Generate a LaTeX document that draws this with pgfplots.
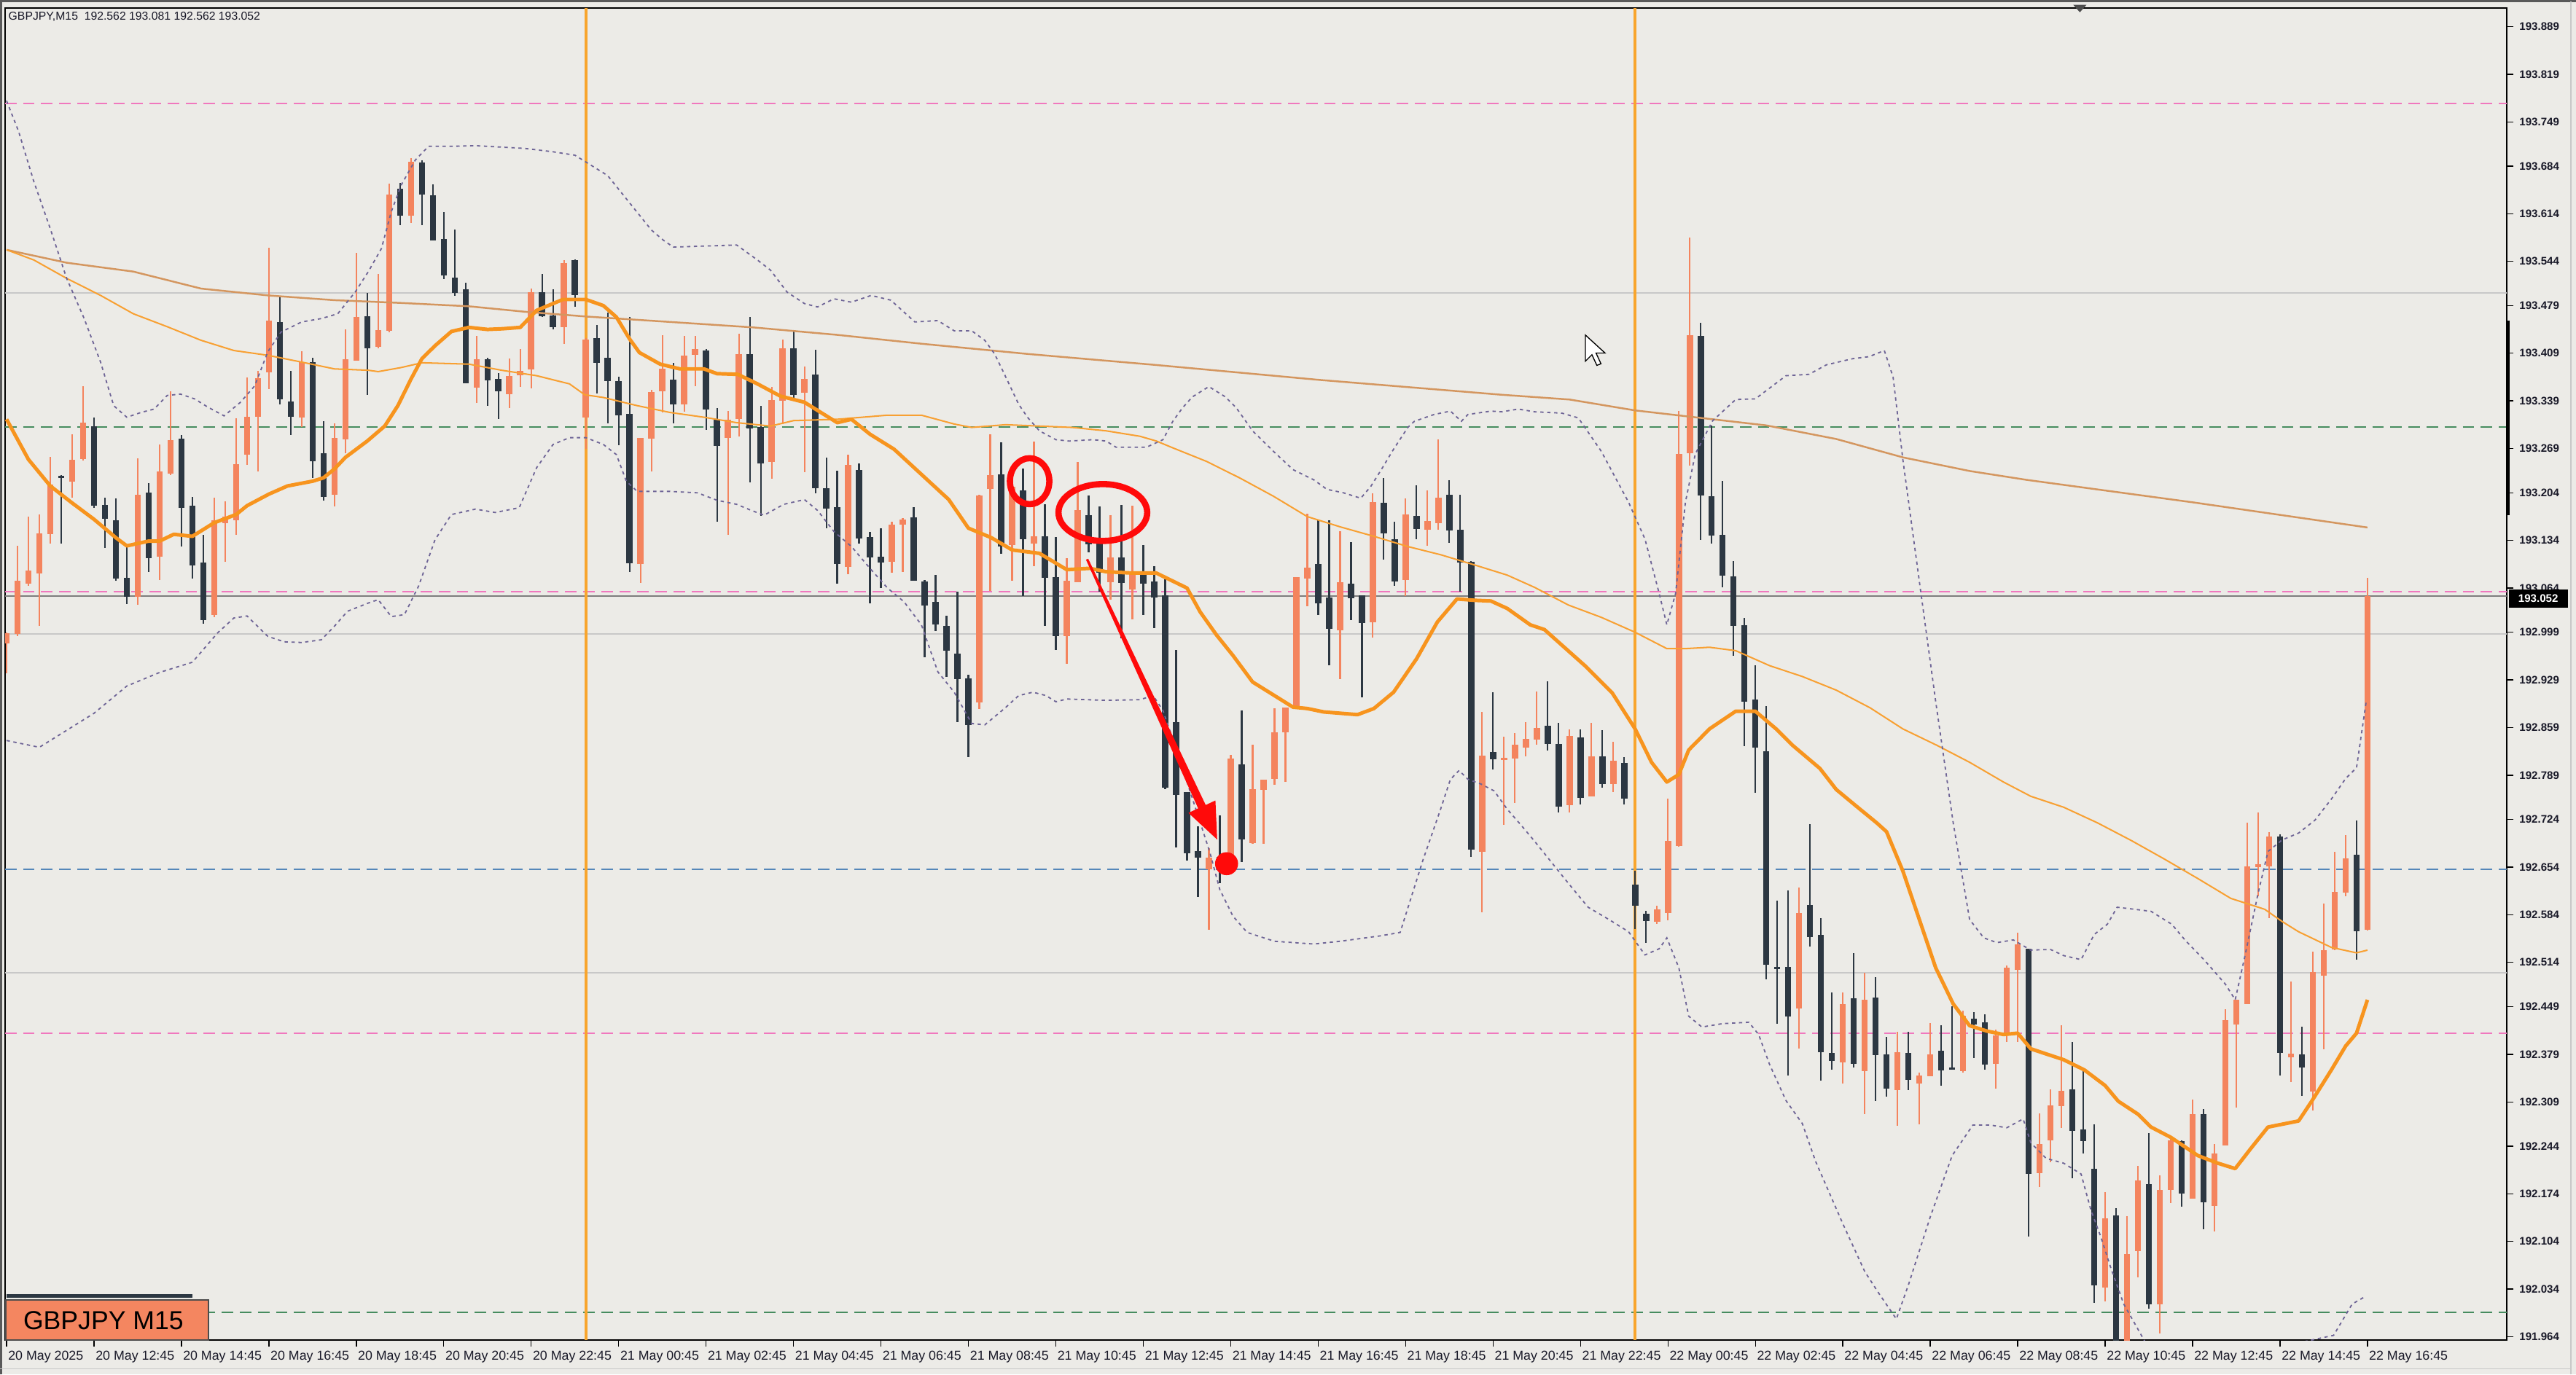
\documentclass[border=0pt]{standalone}
\usepackage{fontspec}
\setmainfont{Liberation Sans}
\usepackage{pgfplots}
\usepackage{pgfplotstable}
\pgfplotsset{compat=1.18}

\definecolor{bgc}{RGB}{236,235,231}
\definecolor{bullc}{RGB}{244,132,94}
\definecolor{bearc}{RGB}{44,55,66}
\definecolor{maf}{RGB}{247,148,30}
\definecolor{mam}{RGB}{248,160,50}
\definecolor{mas}{RGB}{212,150,95}
\definecolor{bbc}{RGB}{110,100,150}
\definecolor{pinkc}{RGB}{240,120,190}
\definecolor{greenc}{RGB}{70,140,95}
\definecolor{bluec}{RGB}{85,135,185}
\definecolor{lgray}{RGB}{200,200,200}
\definecolor{dgray}{RGB}{125,125,125}
\definecolor{vlinec}{RGB}{248,165,45}
\definecolor{annred}{RGB}{255,10,10}
\definecolor{boxc}{RGB}{244,134,96}
\definecolor{txtc}{RGB}{25,25,40}

% bar index k (0 = 20 May 10:45, one bar = 15 min), open high low close
\pgfplotstableread{
k o h l c
0 192.983 193.000 192.940 192.998
1 192.998 193.128 192.995 193.076
2 193.072 193.170 193.069 193.091
3 193.086 193.172 193.008 193.145
4 193.143 193.258 193.130 193.216
6 193.221 193.290 193.197 193.253
7 193.253 193.361 193.251 193.307
12 193.052 193.256 193.040 193.202
14 193.111 193.275 193.076 193.236
15 193.234 193.354 193.231 193.283
19 193.025 193.197 193.022 193.165
20 193.160 193.192 193.103 193.170
21 193.165 193.315 193.143 193.248
22 193.261 193.374 193.246 193.317
23 193.317 193.384 193.236 193.374
24 193.381 193.565 193.357 193.457
27 193.315 193.413 193.302 193.396
30 193.202 193.307 193.185 193.285
31 193.283 193.445 193.263 193.401
32 193.398 193.556 193.398 193.462
34 193.420 193.526 193.416 193.445
35 193.443 193.659 193.440 193.644
37 193.612 193.696 193.600 193.691
43 193.359 193.435 193.337 193.401
46 193.349 193.403 193.330 193.376
47 193.379 193.415 193.359 193.385
48 193.386 193.506 193.359 193.499
51 193.448 193.546 193.423 193.542
53 193.315 193.433 193.270 193.430
58 193.099 193.285 193.071 193.285
59 193.284 193.356 193.236 193.353
60 193.354 193.437 193.324 193.387
62 193.335 193.435 193.324 193.407
63 193.408 193.435 193.361 193.417
66 193.285 193.324 193.142 193.312
67 193.312 193.438 193.287 193.408
70 193.251 193.361 193.226 193.342
71 193.340 193.429 193.305 193.417
73 193.351 193.391 193.236 193.371
77 193.096 193.260 193.084 193.245
81 193.103 193.162 193.087 193.158
82 193.157 193.167 193.088 193.165
89 192.897 193.202 192.887 193.202
90 193.211 193.290 193.060 193.232
92 193.128 193.217 193.075 193.214
94 193.131 193.281 193.098 193.142
97 192.995 193.108 192.953 193.076
98 193.073 193.249 193.073 193.179
101 193.073 193.173 193.048 193.110
103 193.063 193.186 193.019 193.088
110 192.651 192.683 192.563 192.668
112 192.656 192.820 192.656 192.814
114 192.690 192.835 192.690 192.770
115 192.768 192.783 192.690 192.783
116 192.784 192.889 192.776 192.852
117 192.852 192.888 192.780 192.888
118 192.889 193.081 192.889 193.081
119 193.079 193.173 193.037 193.096
122 193.002 193.148 192.931 193.073
125 193.013 193.204 192.992 193.190
128 193.077 193.197 193.054 193.173
130 193.151 193.209 193.127 193.164
131 193.159 193.282 193.150 193.197
135 192.678 192.883 192.589 192.819
137 192.812 192.847 192.717 192.815
138 192.814 192.852 192.749 192.834
139 192.830 192.868 192.818 192.842
140 192.842 192.913 192.834 192.859
143 192.746 192.857 192.735 192.848
145 192.759 192.866 192.759 192.818
147 192.777 192.839 192.765 192.812
151 192.575 192.599 192.572 192.593
152 192.588 192.756 192.577 192.694
153 192.685 193.325 192.685 193.262
154 193.262 193.580 193.245 193.436
164 192.446 192.626 192.389 192.586
168 192.368 192.470 192.337 192.453
170 192.355 192.499 192.291 192.460
173 192.326 192.413 192.275 192.382
175 192.337 192.353 192.277 192.348
176 192.348 192.426 192.348 192.380
179 192.355 192.444 192.353 192.437
182 192.366 192.417 192.330 192.408
183 192.410 192.510 192.398 192.506
184 192.504 192.559 192.398 192.541
186 192.205 192.293 192.184 192.248
187 192.253 192.329 192.222 192.304
188 192.304 192.423 192.272 192.327
192 192.037 192.176 192.016 192.138
194 191.905 192.142 191.890 192.087
195 192.090 192.215 192.052 192.194
197 192.012 192.202 191.970 192.180
198 192.180 192.258 192.161 192.253
200 192.167 192.312 192.167 192.291
202 192.157 192.248 192.119 192.234
203 192.245 192.446 192.245 192.429
204 192.423 192.459 192.301 192.459
205 192.453 192.719 192.453 192.656
206 192.654 192.735 192.612 192.658
207 192.656 192.706 192.579 192.699
209 192.375 192.486 192.339 192.381
211 192.324 192.530 192.297 192.500
212 192.495 192.601 192.387 192.532
213 192.533 192.677 192.533 192.618
214 192.618 192.702 192.612 192.668
216 192.562 193.081 192.562 193.052
}\bull

\pgfplotstableread{
k o h l c
5 193.229 193.231 193.130 193.226
8 193.302 193.315 193.182 193.185
9 193.187 193.197 193.123 193.167
10 193.165 193.197 193.076 193.079
11 193.079 193.126 193.042 193.052
13 193.205 193.219 193.089 193.108
16 193.284 193.290 193.126 193.182
17 193.185 193.199 193.079 193.098
18 193.101 193.143 193.012 193.017
25 193.455 193.492 193.334 193.342
26 193.339 193.384 193.290 193.317
28 193.396 193.403 193.226 193.251
29 193.263 193.310 193.194 193.199
33 193.465 193.499 193.349 193.418
36 193.651 193.659 193.597 193.612
38 193.691 193.693 193.597 193.644
39 193.642 193.657 193.575 193.575
40 193.578 193.617 193.519 193.524
41 193.521 193.592 193.494 193.499
42 193.505 193.513 193.366 193.366
44 193.402 193.403 193.332 193.371
45 193.372 193.380 193.312 193.354
49 193.499 193.526 193.463 193.464
50 193.464 193.504 193.445 193.447
52 193.546 193.547 193.477 193.494
54 193.432 193.452 193.351 193.396
55 193.403 193.469 193.306 193.369
56 193.369 193.376 193.275 193.319
57 193.321 193.463 193.088 193.101
61 193.371 193.396 193.307 193.334
64 193.415 193.416 193.297 193.328
65 193.312 193.329 193.162 193.274
68 193.409 193.463 193.220 193.300
69 193.302 193.333 193.172 193.248
72 193.418 193.443 193.342 193.349
74 193.378 193.415 193.204 193.211
75 193.212 193.256 193.152 193.182
76 193.184 193.237 193.071 193.101
78 193.238 193.248 193.130 193.138
79 193.140 193.146 193.042 193.111
80 193.111 193.152 193.064 193.102
83 193.168 193.183 193.075 193.075
84 193.075 193.076 192.963 193.039
85 193.044 193.083 193.001 193.010
86 193.010 193.024 192.934 192.973
87 192.968 193.059 192.867 192.931
88 192.932 192.937 192.816 192.863
91 193.231 193.279 193.115 193.125
93 193.209 193.240 193.053 193.137
95 193.142 193.189 193.010 193.081
96 193.082 193.140 192.973 192.995
99 193.173 193.200 193.117 193.130
100 193.130 193.184 193.059 193.086
102 193.108 193.186 192.990 193.071
104 193.089 193.128 193.025 193.071
105 193.074 193.098 193.007 193.051
106 193.054 193.078 192.770 192.771
107 192.867 192.974 192.683 192.760
108 192.764 192.764 192.664 192.674
109 192.678 192.715 192.611 192.668
111 192.670 192.730 192.631 192.660
113 192.807 192.886 192.663 192.697
120 193.099 193.164 193.024 193.041
121 193.051 193.164 192.951 193.005
123 193.072 193.132 193.018 193.051
124 193.054 193.054 192.904 193.014
126 193.190 193.227 193.107 193.145
127 193.136 193.162 193.068 193.074
129 193.169 193.215 193.136 193.150
132 193.202 193.223 193.131 193.150
133 193.150 193.202 193.060 193.102
134 193.103 193.105 192.670 192.680
136 192.824 192.912 192.798 192.813
141 192.863 192.928 192.826 192.836
142 192.836 192.866 192.735 192.744
144 192.845 192.857 192.747 192.756
146 192.818 192.857 192.772 192.777
148 192.808 192.817 192.747 192.756
149 192.630 192.650 192.564 192.599
150 192.586 192.590 192.543 192.575
155 193.434 193.454 193.135 193.200
156 193.200 193.303 193.129 193.143
157 193.143 193.221 193.065 193.083
158 193.083 193.105 192.966 193.010
159 193.010 193.021 192.833 192.898
160 192.901 192.952 192.765 192.830
161 192.824 192.892 192.490 192.510
162 192.509 192.605 192.424 192.506
163 192.508 192.620 192.348 192.435
165 192.599 192.717 192.537 192.552
166 192.555 192.581 192.342 192.383
167 192.382 192.470 192.357 192.371
169 192.462 192.528 192.360 192.366
171 192.462 192.493 192.311 192.377
172 192.380 192.406 192.318 192.330
174 192.382 192.413 192.328 192.342
177 192.386 192.422 192.333 192.357
178 192.360 192.451 192.357 192.357
180 192.433 192.442 192.375 192.424
181 192.426 192.439 192.357 192.364
185 192.536 192.536 192.113 192.205
189 192.329 192.398 192.197 192.268
190 192.271 192.356 192.234 192.253
191 192.211 192.276 192.014 192.039
193 192.142 192.153 191.900 191.910
196 192.189 192.264 192.006 192.012
199 192.253 192.253 192.156 192.176
201 192.291 192.299 192.123 192.161
208 192.699 192.702 192.348 192.381
210 192.379 192.421 192.319 192.360
215 192.673 192.723 192.518 192.561
}\bear

\begin{document}
\begin{tikzpicture}
\useasboundingbox (0pt,0pt) rectangle (1568pt,837pt);
\fill[bgc] (0pt,0pt) rectangle (1568pt,837pt);
\draw[gray!70!black, line width=1.2pt] (0.6pt,0pt) -- (0.6pt,837pt);
\draw[gray!70!black, line width=1.2pt] (0pt,836.4pt) -- (1568pt,836.4pt);
\draw[lgray, line width=0.8pt] (1565pt,0pt) -- (1565pt,836pt);
\draw[lgray, line width=0.8pt] (0pt,3.5pt) -- (1565pt,3.5pt);

\begin{axis}[
  at={(3pt,21pt)}, anchor=south west,
  scale only axis, width=1523pt, height=811pt,
  xmin=-0.15, xmax=228.77, ymin=191.959, ymax=193.916,
  axis line style={draw=black, line width=0.8pt},
  tick style={draw=black, line width=0.6pt},
  tick align=outside, major tick length=4pt,
  xtick pos=bottom, ytick pos=right, yticklabel pos=right,
  scaled y ticks=false, scaled x ticks=false,
  xtick={0,8,...,216},
  xticklabels={20 May 2025, 20 May 12:45, 20 May 14:45, 20 May 16:45, 20 May 18:45, 20 May 20:45, 20 May 22:45, 21 May 00:45, 21 May 02:45, 21 May 04:45, 21 May 06:45, 21 May 08:45, 21 May 10:45, 21 May 12:45, 21 May 14:45, 21 May 16:45, 21 May 18:45, 21 May 20:45, 21 May 22:45, 22 May 00:45, 22 May 02:45, 22 May 04:45, 22 May 06:45, 22 May 08:45, 22 May 10:45, 22 May 12:45, 22 May 14:45, 22 May 16:45},
  xticklabel style={anchor=north west, xshift=-2.5pt, yshift=1pt, text=txtc, font=\fontsize{7.9}{8}\selectfont},
  ytick={193.889,193.819,193.749,193.684,193.614,193.544,193.479,193.409,193.339,193.269,193.204,193.134,193.064,192.999,192.929,192.859,192.789,192.724,192.654,192.584,192.514,192.449,192.379,192.309,192.244,192.174,192.104,192.034,191.964},
  yticklabels={193.889,193.819,193.749,193.684,193.614,193.544,193.479,193.409,193.339,193.269,193.204,193.134,193.064,192.999,192.929,192.859,192.789,192.724,192.654,192.584,192.514,192.449,192.379,192.309,192.244,192.174,192.104,192.034,191.964},
  yticklabel style={anchor=west, text=txtc, font=\bfseries\fontsize{6.7}{7}\selectfont},
]
% horizontal levels
\addplot[pinkc, line width=0.8pt, dash pattern=on 7pt off 4pt] coordinates {(-0.15,193.776) (228.77,193.776)};
\addplot[lgray, line width=0.8pt] coordinates {(-0.15,193.498) (228.77,193.498)};
\addplot[greenc, line width=0.8pt, dash pattern=on 7pt off 4pt] coordinates {(-0.15,193.301) (228.77,193.301)};
\addplot[pinkc, line width=0.8pt, dash pattern=on 7pt off 4pt] coordinates {(-0.15,193.059) (228.77,193.059)};
\addplot[dgray, line width=0.8pt] coordinates {(-0.15,193.052) (228.77,193.052)};
\addplot[lgray, line width=0.8pt] coordinates {(-0.15,192.997) (228.77,192.997)};
\addplot[bluec, line width=0.8pt, dash pattern=on 7pt off 4pt] coordinates {(-0.15,192.651) (228.77,192.651)};
\addplot[lgray, line width=0.8pt] coordinates {(-0.15,192.499) (228.77,192.499)};
\addplot[pinkc, line width=0.8pt, dash pattern=on 7pt off 4pt] coordinates {(-0.15,192.410) (228.77,192.410)};
\addplot[greenc, line width=0.8pt, dash pattern=on 7pt off 4pt] coordinates {(-0.15,192.000) (228.77,192.000)};
% day separators
\addplot[vlinec, line width=1.8pt] coordinates {(53,191.959) (53,193.916)};
\addplot[vlinec, line width=1.8pt] coordinates {(149,191.959) (149,193.916)};

% candles: wicks then bodies
\addplot[draw=none, mark=none, error bars/.cd, y dir=both, y explicit, error mark=none,
  error bar style={draw=bullc, line width=1pt}]
  table[x=k, y expr=(\thisrow{h}+\thisrow{l})/2, y error expr=(\thisrow{h}-\thisrow{l})/2] {\bull};
\addplot[draw=none, mark=none, error bars/.cd, y dir=both, y explicit, error mark=none,
  error bar style={draw=bullc, line width=3.8pt}]
  table[x=k, y expr=(\thisrow{o}+\thisrow{c})/2, y error expr=abs(\thisrow{c}-\thisrow{o})/2] {\bull};
\addplot[draw=none, mark=none, error bars/.cd, y dir=both, y explicit, error mark=none,
  error bar style={draw=bearc, line width=1pt}]
  table[x=k, y expr=(\thisrow{h}+\thisrow{l})/2, y error expr=(\thisrow{h}-\thisrow{l})/2] {\bear};
\addplot[draw=none, mark=none, error bars/.cd, y dir=both, y explicit, error mark=none,
  error bar style={draw=bearc, line width=3.8pt}]
  table[x=k, y expr=(\thisrow{o}+\thisrow{c})/2, y error expr=abs(\thisrow{o}-\thisrow{c})/2] {\bear};

% slow moving average
\addplot[mas, line width=1.1pt] coordinates {
(0,193.561) (5.5,193.542) (11.6,193.529) (17.8,193.504) (23.9,193.494) (30,193.487) (36,193.483) (42.3,193.478) (47.4,193.470) (53,193.463) (60.7,193.455) (68.3,193.447) (76,193.436) (83.7,193.423) (93.4,193.408) (105,193.392) (120,193.370) (136.8,193.348) (143,193.341) (149,193.325) (155,193.314) (161,193.303) (167.4,193.283) (173.5,193.256) (179.6,193.236) (184.8,193.223) (200,193.190) (216,193.153)};
% medium moving average
\addplot[mam, line width=0.9pt] coordinates {
(0,193.561) (2.5,193.546) (5.5,193.519) (8.6,193.494) (11.6,193.467) (14.7,193.448) (17.8,193.428) (20.8,193.413) (23.9,193.406) (27,193.396) (30,193.386) (33.1,193.384) (34,193.382) (36.1,193.388) (38,193.395) (42.3,193.393) (45.3,193.384) (48.5,193.376) (51.5,193.364) (52.9,193.348) (54.6,193.344) (57.7,193.332) (60.7,193.322) (63.8,193.315) (66.8,193.307) (69.9,193.302) (72,193.310) (76,193.312) (80.6,193.318) (83.7,193.318) (86.7,193.305) (88.3,193.300) (91.4,193.304) (94.5,193.302) (97.5,193.300) (100.6,193.295) (103.7,193.287) (105.2,193.280) (106.7,193.270) (109.8,193.250) (112.8,193.226) (115.9,193.199) (119,193.169) (122,193.154) (125.1,193.140) (128.2,193.125) (131.2,193.113) (134.3,193.098) (137.3,193.083) (139.8,193.065) (142.9,193.039) (145.9,193.021) (149,192.999) (151.9,192.975) (153.6,192.975) (155.8,192.977) (158.2,192.972) (161.3,192.950) (164.3,192.934) (167.4,192.914) (170.5,192.888) (173.5,192.857) (176.6,192.833) (179.6,192.808) (182.7,192.779) (185.2,192.758) (188.2,192.742) (191.3,192.719) (194.4,192.693) (197.4,192.666) (200.5,192.637) (203.5,192.608) (206.6,192.592) (208.2,192.574) (209.7,192.559) (212.7,192.536) (215,192.528) (216,192.532)};
% fast moving average
\addplot[maf, line width=2.2pt, line join=round] coordinates {
(0,193.312) (2,193.253) (4,193.214) (6,193.189) (8,193.165) (10,193.138) (11,193.126) (13,193.133) (14,193.133) (15.3,193.143) (17,193.140) (19,193.160) (21,193.172) (22,193.185) (24,193.202) (25.7,193.214) (28,193.221) (29,193.226) (30,193.239) (31,193.256) (33,193.280) (34.6,193.302) (35.8,193.332) (37,193.371) (38,193.401) (39.2,193.420) (40.7,193.441) (42.3,193.447) (44,193.444) (45.4,193.445) (47,193.447) (48.5,193.472) (50.9,193.488) (53,193.488) (54.6,193.479) (55.8,193.462) (57,193.430) (57.9,193.410) (59.8,193.393) (61.6,193.386) (63.8,193.386) (65,193.379) (66.9,193.378) (68.7,193.364) (70.8,193.346) (73,193.337) (74.8,193.319) (76,193.307) (77.3,193.312) (79,193.290) (81.2,193.268) (83.7,193.231) (86.2,193.194) (88,193.152) (90.1,193.138) (92,193.120) (94.5,193.115) (97,193.091) (99.1,193.093) (100.6,193.088) (103,193.086) (105.2,193.086) (108,193.064) (109.2,193.029) (110.7,192.995) (112.2,192.965) (114,192.926) (116,192.906) (117.7,192.889) (119,192.887) (120.5,192.882) (123.6,192.878) (125.1,192.887) (126.9,192.911) (129,192.960) (130.9,193.014) (132.7,193.048) (134.3,193.046) (135.8,193.045) (137.3,193.034) (139.4,193.010) (140.7,193.003) (144.4,192.950) (146.9,192.910) (149,192.857) (150.5,192.808) (151.9,192.779) (153,192.790) (153.9,192.826) (155.8,192.857) (158.2,192.883) (160,192.883) (161.9,192.857) (163.4,192.833) (165.9,192.799) (167.4,192.768) (169.2,192.744) (171.1,192.719) (172,192.706) (173.5,192.648) (175,192.577) (176.5,192.506) (178.1,192.453) (179.6,192.421) (181.2,192.413) (182.7,192.408) (184,192.410) (185.2,192.387) (188.2,192.371) (190.1,192.356) (192,192.333) (193.2,192.310) (195,192.291) (196.2,192.272) (198,192.257) (200.5,192.230) (202.3,192.219) (203.9,192.211) (205.4,192.242) (206.9,192.272) (209.7,192.281) (210.9,192.310) (212.7,192.356) (214,192.391) (215,192.410) (216,192.459)};

% Bollinger bands
\addplot[bbc, line width=0.8pt, dash pattern=on 2pt off 2.2pt] coordinates {
(0,193.78) (1.1,193.735) (2.5,193.661) (4,193.592) (5.5,193.519) (7.1,193.460) (8.6,193.396) (9.8,193.332) (11,193.315) (12.3,193.322) (13.5,193.327) (14.7,193.347) (15.9,193.349) (17.2,193.342) (18.4,193.330) (19.9,193.317) (21.4,193.337) (22.7,193.361) (23.9,193.411) (25.1,193.440) (27,193.455) (28.8,193.460) (30.3,193.467) (31.9,193.499) (33.1,193.529) (34.3,193.563) (35.2,193.617) (36.1,193.656) (37.4,193.693) (38.6,193.713) (40.7,193.713) (42.9,193.714) (47.4,193.710) (50,193.705) (52,193.700) (53,193.690) (55,193.670) (57,193.630) (59,193.590) (60.1,193.575) (61,193.565) (66.8,193.568) (68.7,193.546) (69.9,193.531) (71.4,193.499) (73,193.482) (74.2,193.477) (75.7,193.489) (77.3,193.484) (79.1,193.494) (80.9,193.487) (83.1,193.455) (85.2,193.457) (86.7,193.442) (88.3,193.442) (89.5,193.428) (90.4,193.408) (91.3,193.378) (92.6,193.334) (93.4,193.315) (94.5,193.295) (96,193.282) (97.2,193.280) (99.4,193.282) (100.6,193.280) (101.5,193.271) (104.3,193.271) (105.8,193.282) (106.7,193.309) (107.6,193.329) (108.5,193.345) (110,193.360) (111.5,193.345) (112.5,193.329) (114,193.295) (115.9,193.265) (117.7,193.238) (119.6,193.223) (120.8,193.209) (122.3,193.204) (123.9,193.196) (124.8,193.213) (125.7,193.236) (126.9,193.268) (128.2,193.300) (128.8,193.309) (130.6,193.319) (132.1,193.324) (133.1,193.309) (133.7,193.319) (135.8,193.324) (136.8,193.323) (138.3,193.327) (139.8,193.323) (142.3,193.321) (143.8,193.314) (145.9,193.265) (148.4,193.190) (149.9,193.136) (151.2,193.056) (151.9,193.010) (152.7,193.056) (153.6,193.190) (154.5,193.261) (156.1,193.310) (158.2,193.341) (160,193.342) (162.8,193.376) (164.9,193.378) (166.5,193.392) (168.9,193.401) (170.4,193.404) (171.8,193.413) (172.6,193.374) (173.5,193.252) (175,193.074) (176.5,192.897) (178.1,192.719) (179.6,192.577) (180.9,192.550) (182.1,192.543) (183.6,192.547) (185.2,192.532) (187,192.533) (188.2,192.524) (189.8,192.518) (191,192.555) (192.2,192.570) (193.1,192.595) (194.7,192.592) (196.2,192.589) (198.1,192.570) (199.3,192.547) (201.1,192.517) (203,192.482) (203.9,192.459) (204.8,192.524) (206,192.616) (206.9,192.677) (208.2,192.694) (209.7,192.704) (211.2,192.723) (212.7,192.754) (214,192.784) (215,192.800) (215.9,192.899)};
\addplot[bbc, line width=0.8pt, dash pattern=on 2pt off 2.2pt] coordinates {
(0,192.840) (3,192.830) (5,192.850) (8,192.880) (11,192.920) (14,192.940) (17,192.955) (19.3,192.998) (20.8,193.020) (22,193.023) (23.9,192.993) (25.4,192.985) (27,192.984) (28.8,192.988) (30,193.008) (31.2,193.030) (33.1,193.042) (34,193.047) (35.2,193.022) (36.4,193.025) (37.7,193.067) (39.2,193.135) (40.7,193.172) (42.9,193.180) (44.7,193.175) (46.9,193.182) (48.5,193.241) (50,193.275) (51.5,193.285) (53,193.285) (54.6,193.275) (55.8,193.260) (56.7,193.221) (57.7,193.206) (60.7,193.206) (63.2,193.204) (65,193.193) (66.8,193.187) (68,193.179) (69.3,193.171) (71.1,193.187) (73,193.194) (74.2,193.178) (75.7,193.147) (77.3,193.125) (79.1,193.091) (80.6,193.064) (82.1,193.044) (83.7,193.010) (85.2,192.941) (86.7,192.911) (88.3,192.865) (89.5,192.863) (91.3,192.887) (92.6,192.906) (93.9,192.911) (95.1,192.906) (96,192.897) (97,192.901) (100.6,192.899) (103.7,192.900) (104.9,192.906) (105.8,192.884) (106.7,192.842) (108,192.779) (109.2,192.720) (110.1,192.675) (111,192.621) (112.2,192.582) (113.5,192.558) (116,192.545) (119.6,192.541) (122,192.545) (125.7,192.553) (127.5,192.558) (129.6,192.665) (131.2,192.739) (132.1,192.783) (132.9,192.796) (133.7,192.783) (134.9,192.776) (136.1,192.766) (137.3,192.739) (138.6,192.715) (139.8,192.692) (142.9,192.630) (144.7,192.595) (146.6,192.577) (148.4,192.559) (149.9,192.525) (151.2,192.534) (151.9,192.550) (153,192.506) (153.9,192.435) (155.1,192.419) (157,192.424) (159.4,192.426) (160.3,192.408) (161.3,192.364) (162.8,192.311) (164.3,192.277) (165.5,192.222) (168,192.130) (170,192.060) (171.2,192.030) (172.9,191.990) (174,192.040) (176,192.140) (178,192.230) (179.9,192.275) (181.5,192.275) (183,192.271) (184.5,192.284) (185.2,192.249) (186.6,192.226) (188.2,192.219) (189.8,192.203) (190.7,192.150) (191.6,192.111) (192.5,192.066) (193.7,192.012) (195.6,191.958) (197,191.930) (200,191.900) (204,191.900) (207,191.930) (209.7,191.955) (212.9,191.966) (214.6,192.012) (215.9,192.024)};

% red annotations
\draw[annred, line width=3.8pt] (axis cs:93.6,193.221) ellipse [x radius=12pt, y radius=14pt];
\draw[annred, line width=3.8pt] (axis cs:100.3,193.175) ellipse [x radius=27pt, y radius=17.3pt];
\fill[annred] (axis cs:98.755,193.1057) -- (axis cs:98.96,193.1071) -- (axis cs:109.71,192.7452) -- (axis cs:110.60,192.7519) -- (axis cs:110.76,192.6945) -- (axis cs:108.13,192.7336) -- (axis cs:109.02,192.7403) -- cycle;
\addplot[only marks, mark=*, mark size=6.8pt, color=annred] coordinates {(111.62,192.659)};
\end{axis}

% labels and chart furniture
\node[anchor=west, inner sep=0pt, text=txtc, font=\fontsize{7}{8}\selectfont] at (5pt,827pt) {GBPJPY,M15\ \ 192.562 193.081 192.562 193.052};
\fill[black] (1527pt,467pt) rectangle (1563pt,478pt);
\node[text=white, inner sep=0pt, font=\bfseries\fontsize{6.7}{7}\selectfont] at (1545pt,472.5pt) {193.052};
\draw[black, line width=2.4pt] (1526.4pt,641.8pt) -- (1526.4pt,523.3pt);
\fill[gray!60!black] (1262pt,834pt) -- (1270pt,834pt) -- (1266pt,829.5pt) -- cycle;
\draw[black, fill=white, line width=0.6pt] (965pt,633pt) -- (965pt,617pt) -- (969pt,621pt) -- (972pt,614.5pt) -- (974.5pt,615.5pt) -- (971.5pt,622pt) -- (977pt,622pt) -- cycle;
\draw[bearc, line width=2.2pt] (4pt,48pt) -- (117pt,48pt);
\draw[fill=boxc, draw=black!70, line width=0.8pt] (3.4pt,21pt) rectangle (127pt,45.5pt);
\node[anchor=west, inner sep=0pt, text=black, font=\fontsize{15.8}{16}\selectfont] at (14pt,33pt) {GBPJPY M15};
\end{tikzpicture}
\end{document}
